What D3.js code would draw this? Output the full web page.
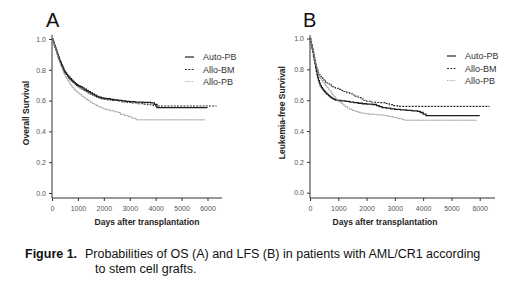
<!DOCTYPE html>
<html>
<head>
<meta charset="utf-8">
<script src="https://cdn.jsdelivr.net/npm/d3@7"></script>
<style>
  html, body { margin: 0; padding: 0; background: #fff; }
  svg { display: block; font-family: Arial, "Liberation Sans", sans-serif; }
</style>
</head>
<body>
<svg id="chart" width="520" height="292"></svg>
<script>
// ---------- DATA ----------
const seriesNames = ["Auto-PB", "Allo-BM", "Allo-PB"];
const xTicks = [0, 1000, 2000, 3000, 4000, 5000, 6000];
const yTicks = [0.0, 0.2, 0.4, 0.6, 0.8, 1.0];

// Panel A: Overall Survival (days, probability)
const osAutoPBDays = [0,30,60,90,120,150,180,210,240,270,300,330,360,390,420,450,480,520,560,600,650,700,750,800,850,900,950,1000,1080,1160,1240,1320,1400,1480,1560,1640,1720,1800,1900,2000,2100,2250,2400,2550,2700,2850,3000,3200,3500,3800,3950,4050,6000];
const osAutoPBVals = [1,0.99,0.975,0.96,0.945,0.93,0.915,0.9,0.885,0.87,0.86,0.848,0.835,0.823,0.812,0.8,0.79,0.78,0.77,0.76,0.75,0.742,0.733,0.725,0.717,0.71,0.703,0.697,0.69,0.682,0.674,0.666,0.658,0.65,0.642,0.635,0.628,0.622,0.618,0.615,0.612,0.608,0.605,0.602,0.598,0.595,0.593,0.59,0.588,0.585,0.575,0.555,0.555];
const osAlloBMDays = [0,30,60,90,120,150,180,210,240,270,300,330,360,390,420,450,480,520,560,600,650,700,750,800,850,900,950,1000,1080,1160,1240,1320,1400,1480,1560,1640,1720,1800,1900,2000,2150,2300,2500,2700,2900,3100,3300,3500,3700,3900,4000,6350];
const osAlloBMVals = [1,0.99,0.975,0.96,0.945,0.928,0.912,0.897,0.882,0.867,0.855,0.842,0.83,0.818,0.806,0.795,0.785,0.775,0.765,0.755,0.745,0.735,0.727,0.719,0.711,0.703,0.696,0.69,0.682,0.674,0.666,0.658,0.65,0.643,0.636,0.63,0.624,0.618,0.613,0.609,0.605,0.601,0.597,0.592,0.588,0.584,0.58,0.577,0.573,0.569,0.565,0.565];
const osAlloPBDays = [0,30,60,90,120,150,180,210,240,270,300,330,360,390,420,450,480,520,560,600,650,700,750,800,850,900,950,1000,1080,1160,1240,1320,1400,1480,1560,1640,1720,1800,1900,2000,2100,2250,2400,2550,2650,2800,2950,3100,3250,5900];
const osAlloPBVals = [1,0.985,0.97,0.955,0.94,0.922,0.905,0.888,0.872,0.857,0.842,0.828,0.815,0.802,0.79,0.778,0.767,0.754,0.742,0.73,0.717,0.705,0.694,0.684,0.674,0.665,0.657,0.649,0.638,0.627,0.617,0.607,0.598,0.589,0.581,0.573,0.566,0.559,0.552,0.545,0.54,0.534,0.528,0.522,0.51,0.502,0.495,0.485,0.475,0.475];

// Panel B: Leukemia-free Survival
const lfsAutoPBDays = [0,25,50,75,100,125,150,175,200,225,250,275,300,330,360,400,440,480,520,560,600,650,700,750,800,850,900,1000,1100,1250,1400,1550,1700,1850,2000,2200,2350,2450,2550,2700,2850,3000,3200,3400,3600,3800,3900,4000,4100,6000];
const lfsAutoPBVals = [1,0.98,0.96,0.935,0.91,0.885,0.86,0.835,0.81,0.787,0.765,0.745,0.727,0.71,0.695,0.682,0.672,0.662,0.654,0.646,0.638,0.63,0.622,0.615,0.61,0.605,0.601,0.598,0.595,0.592,0.588,0.584,0.58,0.577,0.575,0.572,0.565,0.558,0.552,0.548,0.544,0.54,0.537,0.534,0.531,0.528,0.52,0.51,0.5,0.5];
const lfsAlloBMDays = [0,25,50,75,100,125,150,175,200,225,250,275,300,330,360,400,450,500,550,600,650,700,750,800,850,900,1000,1100,1200,1300,1400,1500,1600,1700,1800,1900,2000,2150,2300,2500,2650,2800,2950,3100,6350];
const lfsAlloBMVals = [1,0.98,0.96,0.94,0.918,0.897,0.876,0.856,0.837,0.82,0.804,0.79,0.777,0.765,0.755,0.745,0.735,0.726,0.718,0.711,0.705,0.699,0.693,0.687,0.682,0.677,0.67,0.663,0.656,0.649,0.642,0.634,0.626,0.617,0.608,0.6,0.593,0.588,0.585,0.584,0.578,0.571,0.565,0.56,0.56];
const lfsAlloPBDays = [0,25,50,75,100,125,150,175,200,225,250,275,300,330,360,400,450,500,550,600,650,700,750,800,850,900,950,1000,1080,1160,1240,1320,1400,1500,1600,1700,1800,1950,2100,2300,2500,2650,2800,2950,3100,3250,3350,5900];
const lfsAlloPBVals = [1,0.98,0.96,0.938,0.916,0.894,0.872,0.851,0.831,0.812,0.795,0.779,0.765,0.752,0.741,0.73,0.718,0.706,0.694,0.682,0.67,0.658,0.646,0.634,0.623,0.612,0.602,0.593,0.581,0.569,0.558,0.549,0.541,0.533,0.527,0.521,0.516,0.512,0.509,0.506,0.503,0.499,0.493,0.487,0.48,0.474,0.47,0.47];

const panelLetters = ["A", "B"];
const yLabels = ["Overall Survival", "Leukemia-free Survival"];
const xLabel = "Days after transplantation";
const captionBold = "Figure 1.";
const captionLine1 = "Probabilities of OS (A) and LFS (B) in patients with AML/CR1 according";
const captionLine2 = "to stem cell grafts.";

// ---------- STYLE ----------
const styles = [
  { stroke: "#1e1e1e", width: 1.3, dash: null },
  { stroke: "#2e2e2e", width: 1.1, dash: "2,1.2" },
  { stroke: "#959595", width: 1.0, dash: "1.4,0.4" }
];
const legendStyles = [
  { stroke: "#222", width: 1.2, dash: null },
  { stroke: "#333", width: 1.0, dash: "2,1.3" },
  { stroke: "#aaa", width: 1.0, dash: "1,0.8" }
];

const svg = d3.select("#chart");

function zip(days, vals) { return days.map((d, i) => ({ d: d, v: vals[i] })); }

const panels = [
  { x0: 52, x1: 222, xMaxDomain: 6560, yTop: 35, y1: 39, y0: 193, axisY: 198,
    letterX: 46, yLabelX: 29, legendX: 185, legendY: [57, 69.5, 81.5], xLabelCx: 147,
    series: [zip(osAutoPBDays, osAutoPBVals), zip(osAlloBMDays, osAlloBMVals), zip(osAlloPBDays, osAlloPBVals)] },
  { x0: 310, x1: 495, xMaxDomain: 6540, yTop: 35, y1: 38.5, y0: 192.7, axisY: 198,
    letterX: 303, yLabelX: 285, legendX: 447, legendY: [56, 68.5, 80.5], xLabelCx: 385,
    series: [zip(lfsAutoPBDays, lfsAutoPBVals), zip(lfsAlloBMDays, lfsAlloBMVals), zip(lfsAlloPBDays, lfsAlloPBVals)] }
];

panels.forEach((p, pi) => {
  const g = svg.append("g");
  const x = d3.scaleLinear().domain([0, p.xMaxDomain]).range([p.x0, p.x1]);
  const y = d3.scaleLinear().domain([0, 1]).range([p.y0, p.y1]);

  // y axis
  const yAxis = d3.axisLeft(y).tickValues(yTicks).tickFormat(d3.format(".1f")).tickSize(3).tickPadding(3);
  const ya = g.append("g").attr("transform", `translate(${p.x0},0)`).call(yAxis);
  ya.select(".domain").remove();
  g.append("line").attr("x1", p.x0).attr("x2", p.x0).attr("y1", p.yTop).attr("y2", p.axisY)
    .attr("stroke", "#333").attr("stroke-width", 1);

  // x axis
  const xAxis = d3.axisBottom(x).tickValues(xTicks).tickFormat(d3.format("d")).tickSize(3).tickPadding(5);
  const xa = g.append("g").attr("transform", `translate(0,${p.axisY})`).call(xAxis);
  xa.select(".domain").remove();
  g.append("line").attr("x1", p.x0).attr("x2", p.x1).attr("y1", p.axisY).attr("y2", p.axisY)
    .attr("stroke", "#333").attr("stroke-width", 1);

  [ya, xa].forEach(a => {
    a.selectAll("text").attr("font-size", 7).attr("fill", "#555").attr("font-family", "Arial, 'Liberation Sans', sans-serif");
    a.selectAll("line").attr("stroke", "#333");
  });

  // curves
  const line = d3.line().x(d => x(d.d)).y(d => y(d.v)).curve(d3.curveStepAfter);
  p.series.forEach((s, si) => {
    const st = styles[si];
    g.append("path").datum(s).attr("d", line).attr("fill", "none")
      .attr("stroke", st.stroke).attr("stroke-width", st.width)
      .attr("stroke-dasharray", st.dash);
  });

  // legend
  seriesNames.forEach((name, si) => {
    const st = legendStyles[si];
    const ly = p.legendY[si];
    g.append("line").attr("x1", p.legendX).attr("x2", p.legendX + 9).attr("y1", ly).attr("y2", ly)
      .attr("stroke", st.stroke).attr("stroke-width", st.width).attr("stroke-dasharray", st.dash);
    g.append("text").attr("x", p.legendX + 18).attr("y", ly + 3).attr("font-size", 9)
      .attr("fill", "#333").text(name);
  });

  // panel letter
  g.append("text").attr("x", p.letterX).attr("y", 27).attr("font-size", 20).attr("fill", "#111")
    .text(panelLetters[pi]);

  // y label
  const cy = (p.y0 + p.y1) / 2 - 3;
  g.append("text").attr("transform", `translate(${p.yLabelX},${cy}) rotate(-90)`)
    .attr("text-anchor", "middle").attr("font-size", 8.5).attr("font-weight", "bold").attr("fill", "#222")
    .text(yLabels[pi]);

  // x label
  g.append("text").attr("x", p.xLabelCx).attr("y", 225).attr("text-anchor", "middle")
    .attr("font-size", 8.5).attr("font-weight", "bold").attr("fill", "#222").text(xLabel);
});

// caption
const cap = svg.append("text").attr("y", 258).attr("font-size", 12.5).attr("fill", "#111");
cap.append("tspan").attr("x", 25).attr("font-weight", "bold").text(captionBold);
cap.append("tspan").attr("x", 85).text(captionLine1);
svg.append("text").attr("x", 95).attr("y", 273).attr("font-size", 12.5).attr("fill", "#111").text(captionLine2);
</script>
</body>
</html>
